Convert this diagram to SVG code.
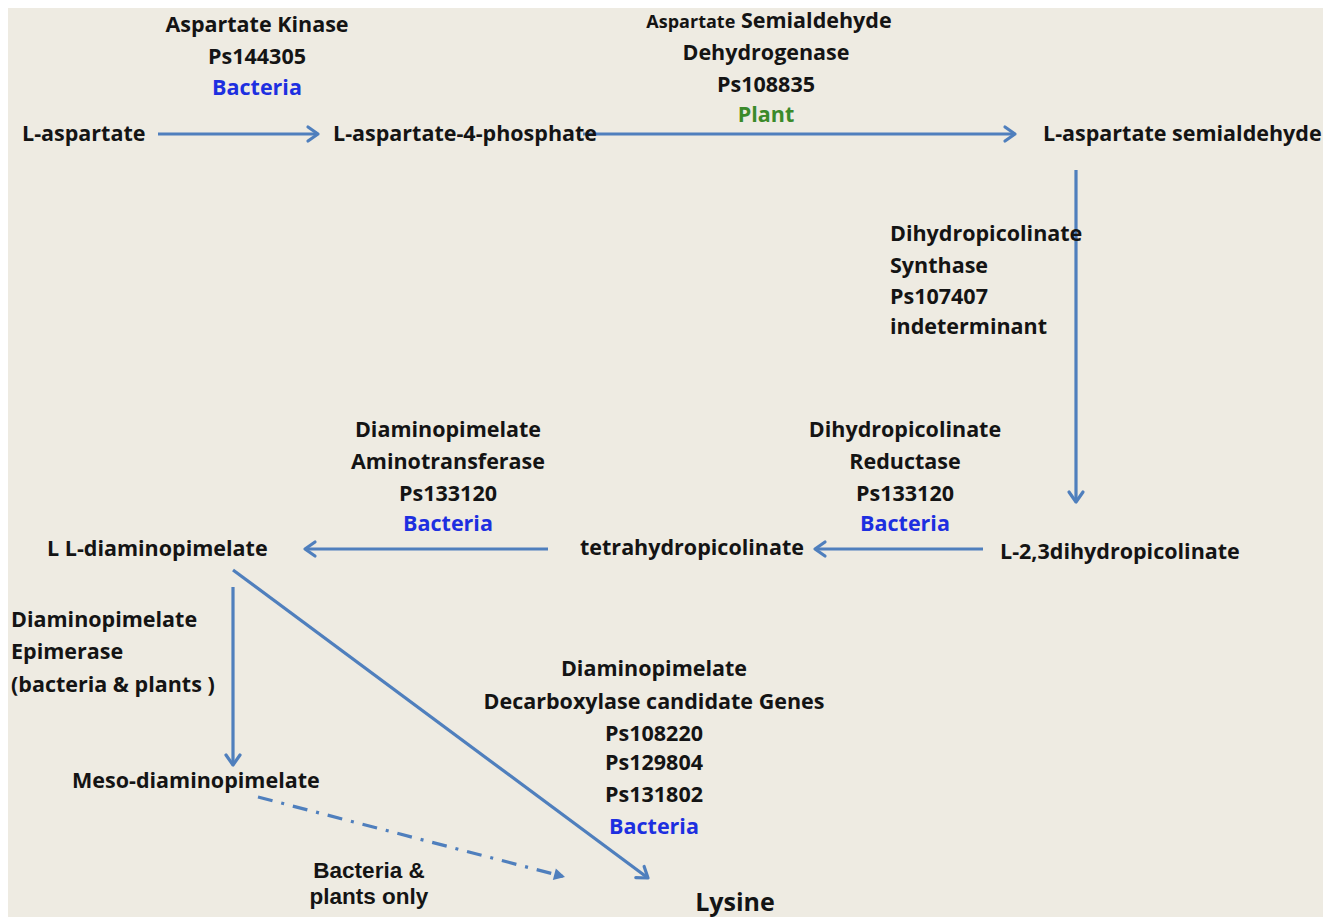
<svg xmlns="http://www.w3.org/2000/svg" width="1332" height="917" viewBox="0 0 1332 917">
<defs>
<style>
text{font-family:"Open Sans",Lato,"Liberation Sans",sans-serif;font-weight:bold;font-size:21.5px;fill:#141414}
.c{text-anchor:middle}
.blue{fill:#1d2fe0}
.green{fill:#3b8a2a}
.ar{font-family:"Liberation Sans",Arial,sans-serif;font-size:22.5px}
.big{font-size:25px}
.ln{stroke:#4f7fbd;stroke-width:3.2;fill:none}
</style>
<marker id="ah" markerUnits="userSpaceOnUse" markerWidth="20" markerHeight="20" refX="14" refY="10" orient="auto">
<path d="M4,3 L14,10 L4,17" fill="none" stroke="#4f7fbd" stroke-width="3.2" stroke-linecap="round" stroke-linejoin="round"/>
</marker>
<marker id="ahf" markerUnits="userSpaceOnUse" markerWidth="20" markerHeight="20" refX="14" refY="10" orient="auto">
<path d="M3,4 L14,10 L3,16 Z" fill="#4f7fbd"/>
</marker>
</defs>
<rect x="0" y="0" width="1332" height="917" fill="#ffffff"/>
<rect x="8" y="8" width="1315" height="909" fill="#eeebe2"/>

<g id="connectors">
<line class="ln" x1="158" y1="134" x2="318" y2="134" marker-end="url(#ah)"/>
<line class="ln" x1="583" y1="134" x2="1015" y2="134" marker-end="url(#ah)"/>
<line class="ln" x1="1076" y1="170" x2="1076" y2="502" marker-end="url(#ah)"/>
<line class="ln" x1="983" y1="549" x2="815" y2="549" marker-end="url(#ah)"/>
<line class="ln" x1="548" y1="549" x2="305" y2="549" marker-end="url(#ah)"/>
<line class="ln" x1="233" y1="587" x2="233" y2="765" marker-end="url(#ah)"/>
<line class="ln" x1="233" y1="570" x2="648" y2="878" marker-end="url(#ah)"/>
<line class="ln" x1="258" y1="797" x2="565" y2="877" stroke-width="3.8" stroke-dasharray="15,9,3,9" marker-end="url(#ahf)"/>
</g>

<g id="e-aspartate-kinase">
<text class="c" x="257" y="32">Aspartate Kinase</text>
<text class="c" x="257" y="64">Ps144305</text>
<text class="c blue" x="257" y="95">Bacteria</text>
</g>
<g id="n-l-aspartate"><text x="22" y="141">L-aspartate</text></g>
<g id="n-l-aspartate-4-phosphate"><text x="333" y="141">L-aspartate-4-phosphate</text></g>
<g id="e-asd">
<text class="c" x="769" y="28"><tspan font-size="18">Aspartate</tspan> Semialdehyde</text>
<text class="c" x="766" y="60">Dehydrogenase</text>
<text class="c" x="766" y="92">Ps108835</text>
<text class="c green" x="766" y="122">Plant</text>
</g>
<g id="n-l-aspartate-semialdehyde"><text x="1043" y="141">L-aspartate semialdehyde</text></g>
<g id="e-dhps">
<text x="890" y="241">Dihydropicolinate</text>
<text x="890" y="273">Synthase</text>
<text x="890" y="304">Ps107407</text>
<text x="890" y="334">indeterminant</text>
</g>
<g id="e-dhpr">
<text class="c" x="905" y="437">Dihydropicolinate</text>
<text class="c" x="905" y="469">Reductase</text>
<text class="c" x="905" y="501">Ps133120</text>
<text class="c blue" x="905" y="531">Bacteria</text>
</g>
<g id="n-l-23dihydropicolinate"><text x="1000" y="559">L-2,3dihydropicolinate</text></g>
<g id="n-tetrahydropicolinate"><text x="580" y="555">tetrahydropicolinate</text></g>
<g id="e-dapat">
<text class="c" x="448" y="437">Diaminopimelate</text>
<text class="c" x="448" y="469">Aminotransferase</text>
<text class="c" x="448" y="501">Ps133120</text>
<text class="c blue" x="448" y="531">Bacteria</text>
</g>
<g id="n-ll-diaminopimelate"><text x="47" y="556">L L-diaminopimelate</text></g>
<g id="e-epimerase">
<text x="11" y="627">Diaminopimelate</text>
<text x="11" y="659">Epimerase</text>
<text x="11" y="692">(bacteria &amp; plants )</text>
</g>
<g id="n-meso-diaminopimelate"><text x="72" y="788">Meso-diaminopimelate</text></g>
<g id="e-decarboxylase">
<text class="c" x="654" y="676">Diaminopimelate</text>
<text class="c" x="654" y="709">Decarboxylase candidate Genes</text>
<text class="c" x="654" y="741">Ps108220</text>
<text class="c" x="654" y="770">Ps129804</text>
<text class="c" x="654" y="802">Ps131802</text>
<text class="c blue" x="654" y="834">Bacteria</text>
</g>
<g id="l-bacteria-plants-only">
<text class="c ar" x="369" y="878">Bacteria &amp;</text>
<text class="c ar" x="369" y="904">plants only</text>
</g>
<g id="n-lysine"><text class="c big" x="735" y="911">Lysine</text></g>
</svg>
